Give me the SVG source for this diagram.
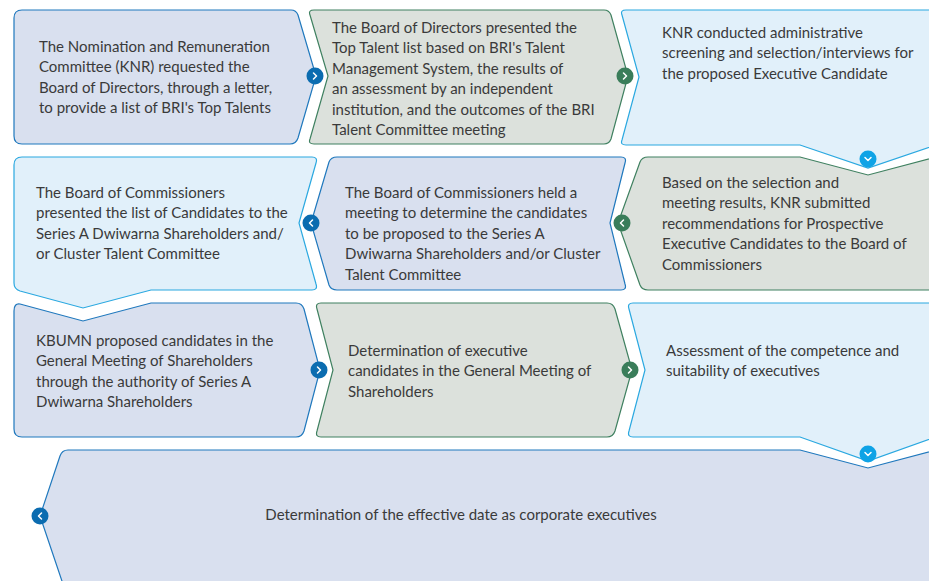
<svg xmlns="http://www.w3.org/2000/svg" width="929" height="581" viewBox="0 0 929 581">
<style>
.lav{fill:#d9e0ef;stroke:#1f78bd;stroke-width:1.2}
.grn{fill:#dce1dc;stroke:#3f8060;stroke-width:1.2}
.lbl{fill:#e1f0fa;stroke:#2aa8e0;stroke-width:1.2}
text{font-family:Lato,"Liberation Sans",sans-serif;font-size:15px;fill:#3a3a3a}
.cb{fill:#0b6cb0}.cg{fill:#3a7d5a}.cl{fill:#0fa3e6}
.ch{fill:none;stroke:#fff;stroke-width:1.5;stroke-linecap:round;stroke-linejoin:round}
</style>
<rect width="929" height="581" fill="#fff"/>
<g id="n1"><path class="lav" d="M22,10 L291,10 Q296,10 298,15 L316,76 L298,138 Q296,144 290,144 L22,144 Q14,144 14,136 L14,18 Q14,10 22,10 Z"/>
<text x="39" y="51.5">The Nomination and Remuneration</text><text x="39" y="72">Committee (KNR) requested the</text><text x="39" y="92.5">Board of Directors, through a letter,</text><text x="39" y="113">to provide a list of BRI's Top Talents</text></g>
<g id="n2"><path class="grn" d="M314,10 L604,10 Q609,10 611,15 L628,76 L611,139 Q609,144 604,144 L314,144 Q308,144 310,139 L328,76 L310,15 Q308,10 314,10 Z"/>
<text x="332" y="32.5">The Board of Directors presented the</text><text x="332" y="53">Top Talent list based on BRI's Talent</text><text x="332" y="73.5">Management System, the results of</text><text x="332" y="94">an assessment by an independent</text><text x="332" y="114.5">institution, and the outcomes of the BRI</text><text x="332" y="135">Talent Committee meeting</text></g>
<g id="n3"><path class="lbl" d="M626,10 L940,10 L940,145 L936,145 L868,168 L800,145 L626,145 Q620,145 622,140 L639,77 L622,15 Q620,10 626,10 Z"/>
<text x="662" y="37.5">KNR conducted administrative</text><text x="662" y="58">screening and selection/interviews for</text><text x="662" y="78.5">the proposed Executive Candidate</text></g>
<g id="n4"><path class="lbl" d="M22,157 L312,157 Q318,157 316,163 L299,223 L316,284 Q318,290 312,290 L151,290 L83,308 L20,291 Q14,289 14,283 L14,165 Q14,157 22,157 Z"/>
<text x="36" y="197.5">The Board of Commissioners</text><text x="36" y="218">presented the list of Candidates to the</text><text x="36" y="238.5">Series A Dwiwarna Shareholders and/</text><text x="36" y="259">or Cluster Talent Committee</text></g>
<g id="n5"><path class="lav" d="M337,157 L621,157 Q627,157 625,163 L610,223 L625,284 Q627,290 621,290 L337,290 Q331,290 329,285 L311,223 L329,162 Q331,157 337,157 Z"/>
<text x="345" y="197.5">The Board of Commissioners held a</text><text x="345" y="218">meeting to determine the candidates</text><text x="345" y="238.5">to be proposed to the Series A</text><text x="345" y="259">Dwiwarna Shareholders and/or Cluster</text><text x="345" y="279.5">Talent Committee</text></g>
<g id="n6"><path class="grn" d="M648,157 L800,157 L868,175 L936,157 L940,157 L940,290 L648,290 Q642,290 640,285 L618,223 L640,162 Q642,157 648,157 Z"/>
<text x="662" y="187.5">Based on the selection and</text><text x="662" y="208">meeting results, KNR submitted</text><text x="662" y="228.5">recommendations for Prospective</text><text x="662" y="249">Executive Candidates to the Board of</text><text x="662" y="269.5">Commissioners</text></g>
<g id="n7"><path class="lav" d="M20,304 L83,321 L151,303 L296,303 Q302,303 304,309 L320,370 L304,431 Q302,437 296,437 L22,437 Q14,437 14,429 L14,311 Q14,303 20,304 Z"/>
<text x="36" y="345.5">KBUMN proposed candidates in the</text><text x="36" y="366">General Meeting of Shareholders</text><text x="36" y="386.5">through the authority of Series A</text><text x="36" y="407">Dwiwarna Shareholders</text></g>
<g id="n8"><path class="grn" d="M321,303 L607,303 Q613,303 615,309 L632,370 L615,431 Q613,437 607,437 L321,437 Q315,437 317,431 L333,370 L317,309 Q315,303 321,303 Z"/>
<text x="348" y="355.5">Determination of executive</text><text x="348" y="376">candidates in the General Meeting of</text><text x="348" y="396.5">Shareholders</text></g>
<g id="n9"><path class="lbl" d="M633,303 L940,303 L940,437 L936,437 L868,461 L800,437 L633,437 Q627,437 629,431 L645,370 L629,309 Q627,303 633,303 Z"/>
<text x="666" y="355.5">Assessment of the competence and</text><text x="666" y="376">suitability of executives</text></g>
<g id="n10"><path class="lav" d="M68,450 L800,450 L868,468 L936,450 L940,450 L940,590 L65,590 L40,516 L60,456 Q62,450 68,450 Z"/>
<text x="461" y="520" text-anchor="middle">Determination of the effective date as corporate executives</text></g>
<g id="connectors">
<circle class="cb" cx="315" cy="76" r="8.5"/><path class="ch" d="M313.5,73 L316.5,76 L313.5,79"/>
<circle class="cg" cx="625" cy="76" r="8.5"/><path class="ch" d="M623.5,73 L626.5,76 L623.5,79"/>
<circle class="cl" cx="868" cy="159" r="8.5"/><path class="ch" d="M865,157.5 L868,160.5 L871,157.5"/>
<circle class="cg" cx="622" cy="223" r="8.5"/><path class="ch" d="M623.5,220 L620.5,223 L623.5,226"/>
<circle class="cb" cx="311" cy="223" r="8.5"/><path class="ch" d="M312.5,220 L309.5,223 L312.5,226"/>
<circle class="cb" cx="319" cy="370" r="8.5"/><path class="ch" d="M317.5,367 L320.5,370 L317.5,373"/>
<circle class="cg" cx="630" cy="370" r="8.5"/><path class="ch" d="M628.5,367 L631.5,370 L628.5,373"/>
<circle class="cl" cx="868" cy="454" r="8.5"/><path class="ch" d="M865,452.5 L868,455.5 L871,452.5"/>
<circle class="cb" cx="40" cy="516" r="8.5"/><path class="ch" d="M41.5,513 L38.5,516 L41.5,519"/>
</g>
</svg>
